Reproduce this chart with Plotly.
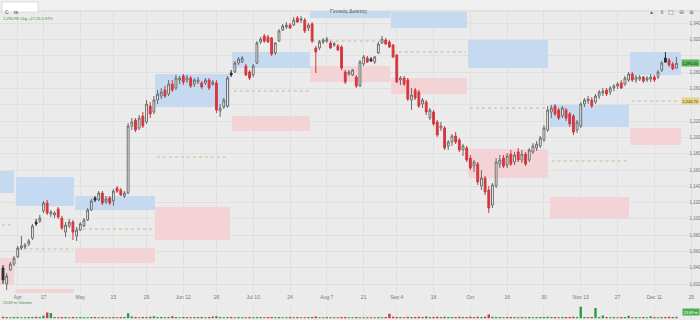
import plotly.graph_objects as go

title = "Γενικός Δείκτης"
legend_text = "1,290.98 Chg +17.26 0.87%"
volume_text = "23.69 m Volume"

opens = [1039.8, 1020.1, 1037.3, 1044.7, 1053.3, 1064.3, 1065.5, 1069.2, 1076.6, 1096.2,
         1097.4, 1109.7, 1119.5, 1106.0, 1104.8, 1112.1, 1101.1, 1083.9, 1091.3, 1096.2,
         1079.0, 1086.4, 1091.3, 1098.7, 1110.9, 1125.7, 1123.2, 1131.8, 1120.7, 1125.7,
         1122.0, 1137.9, 1135.5, 1128.1, 1131.6, 1214.0, 1221.4, 1211.5, 1226.3, 1218.9,
         1238.5, 1231.2, 1245.9, 1250.8, 1258.2, 1253.3, 1265.5, 1260.6, 1270.4, 1275.3,
         1270.4, 1272.9, 1265.5, 1268.0, 1266.8, 1266.8, 1270.4, 1265.5, 1266.8, 1232.4,
         1237.3, 1238.5, 1279.0, 1280.3, 1291.3, 1292.5, 1287.6, 1280.3, 1276.6, 1291.3,
         1317.1, 1324.4, 1323.2, 1322.0, 1303.6, 1318.3, 1331.8, 1335.5, 1337.9, 1337.9,
         1346.5, 1344.0, 1344.0, 1334.2, 1339.2, 1309.7, 1309.7, 1317.1, 1318.3, 1315.8,
         1313.4, 1312.2, 1310.9, 1280.3, 1277.8, 1276.6, 1274.1, 1263.1, 1290.1, 1297.4,
         1296.2, 1292.5, 1303.6, 1315.8, 1319.5, 1317.1, 1313.4, 1301.1, 1270.4, 1272.9,
         1270.4, 1245.9, 1258.2, 1255.7, 1241.0, 1243.4, 1223.8, 1231.2, 1218.9, 1211.5,
         1211.5, 1189.5, 1194.4, 1201.7, 1196.8, 1184.6, 1187.0, 1174.7, 1164.9, 1167.4,
         1140.4, 1150.2, 1135.5, 1117.0, 1140.4, 1167.4, 1174.7, 1166.1, 1179.6, 1169.8,
         1182.1, 1172.3, 1179.6, 1172.3, 1182.1, 1187.0, 1189.5, 1196.8, 1209.1, 1231.2,
         1238.5, 1233.6, 1226.3, 1233.6, 1228.7, 1226.3, 1209.1, 1214.0, 1241.0, 1244.7,
         1245.9, 1243.4, 1250.8, 1254.5, 1258.2, 1255.7, 1260.6, 1263.1, 1266.8, 1265.5,
         1270.4, 1277.8, 1270.4, 1271.6, 1274.1, 1270.4, 1271.6, 1274.1, 1274.1, 1282.7,
         1297.4, 1295.0, 1290.1, 1285.2]
highs = [1043.4, 1033.6, 1047.1, 1054.5, 1066.8, 1079.0, 1070.4, 1075.3, 1093.8, 1099.9,
         1104.8, 1122.0, 1123.2, 1110.9, 1109.7, 1114.6, 1103.6, 1096.2, 1099.9, 1098.7,
         1090.1, 1096.2, 1101.1, 1113.4, 1124.4, 1128.1, 1134.2, 1134.2, 1128.1, 1128.1,
         1136.7, 1140.4, 1137.9, 1134.2, 1217.7, 1223.8, 1223.8, 1227.5, 1231.2, 1245.9,
         1243.4, 1250.8, 1258.2, 1260.6, 1263.1, 1270.4, 1270.4, 1276.6, 1275.3, 1277.8,
         1276.6, 1275.3, 1272.9, 1274.1, 1269.2, 1272.9, 1272.9, 1270.4, 1270.4, 1241.0,
         1248.4, 1275.3, 1282.7, 1293.8, 1298.7, 1299.9, 1290.1, 1282.7, 1290.1, 1318.3,
         1323.2, 1326.9, 1325.7, 1323.2, 1317.1, 1333.0, 1339.2, 1341.6, 1340.4, 1347.7,
         1349.0, 1349.0, 1346.5, 1340.4, 1341.6, 1312.2, 1319.5, 1322.0, 1323.2, 1318.3,
         1317.1, 1314.6, 1313.4, 1282.7, 1282.7, 1284.0, 1276.6, 1295.0, 1301.1, 1299.9,
         1298.7, 1299.9, 1317.1, 1324.4, 1322.0, 1319.5, 1314.6, 1302.3, 1275.3, 1275.3,
         1272.9, 1260.6, 1260.6, 1258.2, 1248.4, 1245.9, 1236.1, 1233.6, 1221.4, 1218.9,
         1214.0, 1196.8, 1204.2, 1206.6, 1199.3, 1192.0, 1189.5, 1178.4, 1172.3, 1169.8,
         1160.0, 1152.6, 1140.4, 1144.1, 1174.7, 1178.4, 1178.4, 1180.9, 1184.6, 1182.1,
         1187.0, 1184.6, 1182.1, 1187.0, 1193.1, 1195.6, 1201.7, 1215.2, 1238.5, 1239.8,
         1241.0, 1236.1, 1238.5, 1236.1, 1231.2, 1228.7, 1221.4, 1243.4, 1248.4, 1250.8,
         1249.6, 1253.3, 1258.2, 1260.6, 1260.6, 1263.1, 1265.5, 1268.0, 1270.4, 1275.3,
         1280.3, 1280.3, 1276.6, 1276.6, 1275.3, 1275.3, 1277.8, 1276.6, 1282.7, 1293.8,
         1304.8, 1297.4, 1292.5, 1298.7]
lows = [1020.1, 1012.8, 1036.1, 1042.2, 1052.0, 1061.9, 1063.1, 1066.8, 1074.1, 1091.3,
        1095.0, 1107.3, 1104.8, 1102.3, 1101.1, 1099.9, 1086.4, 1077.8, 1088.8, 1074.1,
        1072.9, 1085.2, 1090.1, 1097.4, 1109.7, 1120.7, 1122.0, 1117.0, 1118.3, 1117.0,
        1115.8, 1131.8, 1128.1, 1125.7, 1130.6, 1209.1, 1206.6, 1209.1, 1211.5, 1216.5,
        1223.8, 1228.7, 1241.0, 1247.1, 1248.4, 1250.8, 1255.7, 1258.2, 1265.5, 1264.3,
        1266.8, 1260.6, 1261.9, 1265.5, 1259.4, 1264.3, 1258.2, 1263.1, 1230.0, 1225.0,
        1234.9, 1236.1, 1274.1, 1279.0, 1288.9, 1291.3, 1275.3, 1270.4, 1274.1, 1290.1,
        1314.6, 1315.8, 1315.8, 1299.9, 1301.1, 1317.1, 1330.6, 1333.0, 1333.0, 1336.7,
        1340.4, 1340.4, 1328.1, 1330.6, 1315.8, 1279.0, 1307.2, 1314.6, 1315.8, 1308.5,
        1310.9, 1306.0, 1282.7, 1265.5, 1275.3, 1275.3, 1260.6, 1261.9, 1287.6, 1291.3,
        1292.5, 1290.1, 1302.3, 1314.6, 1313.4, 1309.7, 1297.4, 1266.8, 1264.3, 1263.1,
        1244.7, 1233.6, 1245.9, 1236.1, 1236.1, 1227.5, 1221.4, 1214.0, 1200.5, 1207.9,
        1184.6, 1184.6, 1189.5, 1191.9, 1182.1, 1177.2, 1169.8, 1160.0, 1157.6, 1141.6,
        1135.5, 1129.3, 1107.3, 1113.4, 1137.9, 1162.5, 1162.5, 1162.5, 1164.9, 1166.1,
        1169.8, 1168.6, 1164.9, 1169.8, 1179.6, 1183.3, 1187.0, 1194.4, 1206.6, 1223.8,
        1226.3, 1221.4, 1223.8, 1220.1, 1212.8, 1202.9, 1205.4, 1211.5, 1237.3, 1241.0,
        1236.1, 1241.0, 1247.1, 1250.8, 1250.8, 1252.0, 1256.9, 1259.4, 1259.4, 1263.1,
        1268.0, 1268.0, 1266.8, 1269.2, 1266.8, 1268.0, 1268.0, 1268.0, 1271.6, 1280.3,
        1291.3, 1286.4, 1282.7, 1284.0]
closes = [1025.0, 1030.0, 1044.7, 1052.0, 1064.3, 1066.8, 1068.0, 1072.9, 1091.3, 1093.8,
          1101.1, 1119.5, 1107.3, 1108.5, 1107.3, 1102.3, 1088.8, 1092.5, 1096.2, 1083.9,
          1086.4, 1093.8, 1098.7, 1110.9, 1122.0, 1123.2, 1131.8, 1119.5, 1124.4, 1119.5,
          1134.2, 1134.0, 1129.3, 1131.8, 1214.0, 1218.9, 1209.1, 1223.8, 1214.0, 1241.0,
          1228.7, 1245.9, 1253.3, 1255.7, 1250.8, 1265.5, 1258.2, 1272.9, 1272.9, 1268.0,
          1272.9, 1263.1, 1270.4, 1270.4, 1261.9, 1270.4, 1260.6, 1268.0, 1233.6, 1236.1,
          1245.9, 1272.9, 1276.6, 1291.3, 1296.2, 1297.4, 1276.6, 1272.9, 1287.6, 1315.8,
          1320.7, 1318.3, 1317.1, 1302.3, 1315.8, 1330.6, 1336.7, 1337.9, 1334.2, 1344.0,
          1341.6, 1345.3, 1330.6, 1337.9, 1318.3, 1304.8, 1317.1, 1319.5, 1320.7, 1309.7,
          1314.6, 1307.2, 1285.2, 1268.0, 1280.3, 1282.7, 1263.1, 1292.5, 1298.7, 1292.5,
          1293.8, 1298.7, 1314.6, 1320.7, 1314.6, 1310.9, 1298.7, 1268.0, 1272.9, 1265.5,
          1247.1, 1252.0, 1248.4, 1238.5, 1245.9, 1231.2, 1233.6, 1216.5, 1203.0, 1214.0,
          1187.0, 1194.4, 1201.7, 1194.4, 1184.6, 1189.5, 1172.3, 1162.5, 1169.8, 1145.3,
          1150.2, 1133.0, 1113.4, 1141.6, 1169.8, 1172.3, 1164.9, 1177.2, 1167.4, 1178.4,
          1172.3, 1179.6, 1167.4, 1184.6, 1189.5, 1191.9, 1199.3, 1211.5, 1233.6, 1236.1,
          1228.7, 1223.8, 1236.1, 1223.8, 1216.5, 1206.6, 1218.9, 1241.0, 1245.9, 1247.1,
          1238.5, 1250.8, 1255.7, 1256.9, 1253.3, 1260.6, 1263.1, 1265.5, 1260.6, 1272.9,
          1277.8, 1270.4, 1274.1, 1274.1, 1269.2, 1272.9, 1274.1, 1270.4, 1280.3, 1291.3,
          1292.5, 1288.9, 1284.0, 1291.0]
volumes = [14, 12, 11, 12, 13, 11, 10, 12, 13, 14,
           12, 22, 48, 44, 12, 11, 13, 12, 10, 12,
           11, 12, 10, 11, 13, 12, 11, 12, 10, 11,
           12, 11, 12, 13, 42, 16, 12, 11, 13, 12,
           14, 18, 13, 12, 11, 12, 18, 12, 11, 13,
           12, 11, 12, 13, 12, 11, 12, 16, 18, 12,
           11, 13, 12, 11, 12, 10, 11, 12, 10, 13,
           12, 11, 12, 13, 11, 12, 11, 10, 12, 11,
           12, 10, 11, 12, 13, 16, 11, 10, 12, 11,
           10, 11, 12, 13, 11, 10, 12, 11, 10, 11,
           10, 11, 12, 11, 13, 38, 14, 13, 12, 11,
           14, 12, 13, 14, 12, 16, 12, 13, 14, 12,
           15, 12, 13, 12, 14, 12, 13, 14, 12, 15,
           13, 14, 32, 14, 13, 12, 11, 12, 13, 12,
           11, 12, 11, 12, 11, 12, 13, 12, 14, 13,
           12, 11, 12, 13, 12, 14, 12, 95, 13, 12,
           12, 85, 13, 25, 12, 11, 12, 11, 12, 13,
           22, 11, 12, 11, 12, 11, 18, 12, 11, 12,
           13, 15, 12, 14]

tick_idx = [4, 11, 21, 30, 39, 49, 58, 68, 78, 88, 98, 107, 117, 127, 137, 147, 157, 167, 177, 187]
tick_text = ["Apr", "17", "May", "15", "29", "Jun 12", "26", "Jul 10", "24", "Aug 7",
             "21", "Sep 4", "18", "Oct", "16", "30", "Nov 13", "27", "Dec 11", "25"]
price_ticks = [1020, 1040, 1060, 1080, 1100, 1120, 1140, 1160, 1180, 1200,
               1220, 1240, 1260, 1280, 1300, 1320, 1340, 1360]
# labels hidden behind the header band and the two price tags
price_hidden = [1360, 1300, 1240]

# monthly zones (start/end in trading-day index), blue and pink bands, pivot level
zone_x0 = [-0.8, 3.5, 19.6, 41.3, 62.2, 83.4, 105.4, 126.4, 148.6, 170.4]
zone_x1 = [3.0, 19.3, 41.3, 61.7, 83.4, 105.2, 126.1, 148.1, 170.1, 184.2]
blue_hi = [1158.8, 1151.4, 1128.1, 1277.8, 1304.8, 1366.0, 1353.9, 1319.5, 1239.8, 1304.8]
blue_lo = [1131.8, 1115.8, 1110.9, 1237.3, 1285.2, 1346.5, 1334.2, 1285.2, 1212.8, 1276.6]
pink_hi = [1052.0, 1014.0, 1064.3, 1114.6, 1226.3, 1287.6, 1272.9, 1185.8, 1126.9, 1211.5]
pink_lo = [1018.9, 1000.0, 1045.9, 1074.1, 1207.9, 1268.0, 1253.3, 1150.2, 1101.1, 1190.7]
pivot = [1092.5, 1063.1, 1087.6, 1176.0, 1257.0, 1318.3, 1304.8, 1236.1, 1171.1, 1244.7]

W, H = 700, 320
FONT = "Liberation Sans, Arial, sans-serif"
BG = "#ebebeb"
GRID = "#e0e0e0"
RED = "#d4373f"
DARK = "#2b2b2b"
BLUE = "#c5daf0"
PINK = "#f4d3d7"


def py(px):
    return 1 - px / H


n = len(closes)
xs = list(range(n))
up_idx = [i for i in xs if closes[i] >= opens[i]]
red_idx = [i for i in xs if closes[i] < opens[i] and i > 0 and closes[i] < closes[i - 1]]
dark_idx = [i for i in xs if i not in up_idx and i not in red_idx]

fig = go.Figure()


def candle(idx, line_col, fill_col):
    return go.Candlestick(
        x=idx,
        open=[opens[i] for i in idx], high=[highs[i] for i in idx],
        low=[lows[i] for i in idx], close=[closes[i] for i in idx],
        increasing=dict(line=dict(color=line_col, width=1), fillcolor=fill_col),
        decreasing=dict(line=dict(color=line_col, width=1), fillcolor=fill_col),
        whiskerwidth=0, hoverinfo="skip", showlegend=False, xaxis="x", yaxis="y")


fig.add_trace(candle(up_idx, "#6a6a6a", "#ffffff"))
fig.add_trace(candle(red_idx, RED, RED))
fig.add_trace(candle(dark_idx, DARK, DARK))

vol_col = ["#2e9a45" if closes[i] >= opens[i] else RED for i in xs]
fig.add_trace(go.Bar(x=xs, y=volumes, marker=dict(color=vol_col, line=dict(width=0)),
                     width=0.65, xaxis="x2", yaxis="y2", hoverinfo="skip", showlegend=False))

shapes = []
for k in range(len(zone_x0)):
    shapes.append(dict(type="rect", xref="x", yref="y", x0=zone_x0[k], x1=zone_x1[k],
                       y0=blue_lo[k], y1=blue_hi[k], fillcolor=BLUE, line=dict(width=0),
                       layer="between"))
    shapes.append(dict(type="rect", xref="x", yref="y", x0=zone_x0[k], x1=zone_x1[k],
                       y0=pink_lo[k], y1=pink_hi[k], fillcolor=PINK, line=dict(width=0),
                       layer="between"))
    shapes.append(dict(type="line", xref="x", yref="y", x0=zone_x0[k] + 0.5, x1=zone_x1[k] - 0.3,
                       y0=pivot[k], y1=pivot[k], line=dict(color="#c0ae74", width=0.8, dash="dot"),
                       layer="between"))
# header band
shapes.append(dict(type="rect", xref="paper", yref="paper", x0=0, x1=1, y0=py(11), y1=1,
                   fillcolor="#efefef", line=dict(width=0), layer="above"))
shapes.append(dict(type="line", xref="paper", yref="paper", x0=0, x1=1, y0=py(11), y1=py(11),
                   line=dict(color="#d6d6d6", width=1), layer="above"))
# search box
shapes.append(dict(type="rect", xref="paper", yref="paper", x0=2 / W, x1=38 / W, y0=py(12), y1=py(2),
                   fillcolor="#ffffff", line=dict(color="#cfcfcf", width=0.6), layer="above"))

annotations = [
    dict(text=title, x=348 / W, y=py(6), xref="paper", yref="paper", showarrow=False,
         font=dict(size=5.5, color="#555555", family=FONT)),
    dict(text="C", x=3 / W, y=py(7), xref="paper", yref="paper", xanchor="left", showarrow=False,
         font=dict(size=5, color="#555555", family=FONT)),
    dict(text="ts", x=12 / W, y=py(7), xref="paper", yref="paper", xanchor="left", showarrow=False,
         font=dict(size=5, color="#333333", family=FONT)),
    dict(text=legend_text, x=1 / W, y=py(14.5), xref="paper", yref="paper", xanchor="left",
         showarrow=False, font=dict(size=4, color="#3f8f3f", family=FONT)),
    dict(text=volume_text, x=1 / W, y=py(306.5), xref="paper", yref="paper", xanchor="left",
         showarrow=False, font=dict(size=4, color="#3f8f3f", family=FONT)),
    dict(text="{:,.2f}".format(closes[-1]), x=1, y=closes[-1], xref="paper", yref="y",
         xanchor="right", showarrow=False, bgcolor="#5cb85c", borderpad=0.5,
         font=dict(size=4, color="#10300f", family=FONT)),
    dict(text="{:,.2f}".format(pivot[-1]), x=1, y=pivot[-1], xref="paper", yref="y",
         xanchor="right", showarrow=False, bgcolor="#e6d38a", borderpad=0.5,
         font=dict(size=4, color="#4a3f10", family=FONT)),
    dict(text="23.69 m", x=1, y=py(315.5), xref="paper", yref="paper",
         xanchor="right", showarrow=False, bgcolor="#4caf50", borderpad=0.5,
         font=dict(size=4, color="#ffffff", family=FONT)),
]
for sym, px in zip(["▴", "॥", "□", "⊖", "≡"], [655, 666, 676, 686, 696]):
    annotations.append(dict(text=sym, x=px / W, y=py(6), xref="paper", yref="paper", showarrow=False,
                            font=dict(size=6, color="#666666", family="DejaVu Sans")))

price_text = ["" if v in price_hidden else "{:,}".format(v) for v in price_ticks]

fig.update_layout(
    width=W, height=H, autosize=False,
    margin=dict(l=0, r=0, t=0, b=0),
    paper_bgcolor=BG, plot_bgcolor=BG,
    font=dict(family=FONT, size=5, color="#777777"),
    showlegend=False, dragmode=False,
    xaxis=dict(range=[-0.815, 189.4], anchor="y", tickvals=tick_idx, ticktext=tick_text,
               showgrid=True, gridcolor=GRID, gridwidth=1, zeroline=False, showline=False,
               ticks="", tickfont=dict(size=5, color="#777777"), rangeslider=dict(visible=False),
               ticklabeloverflow="allow", fixedrange=True),
    yaxis=dict(domain=[py(293), 1], range=[1009.1, 1368.6], side="right",
               anchor="free", position=688.5 / W, ticklabelposition="outside",
               tickvals=price_ticks, ticktext=price_text,
               showgrid=True, gridcolor=GRID, zeroline=False, showline=False, ticks="",
               tickfont=dict(size=4.5, color="#777777"), fixedrange=True),
    xaxis2=dict(matches="x", anchor="y2", tickvals=tick_idx, showticklabels=False,
                showgrid=True, gridcolor=GRID, zeroline=False, showline=False,
                rangeslider=dict(visible=False)),
    yaxis2=dict(domain=[py(318.5), py(306)], range=[0, 100], showticklabels=False,
                showgrid=False, zeroline=False, showline=False),
    shapes=shapes, annotations=annotations,
)

fig.write_html("out.html", config=dict(displayModeBar=False, staticPlot=True))
